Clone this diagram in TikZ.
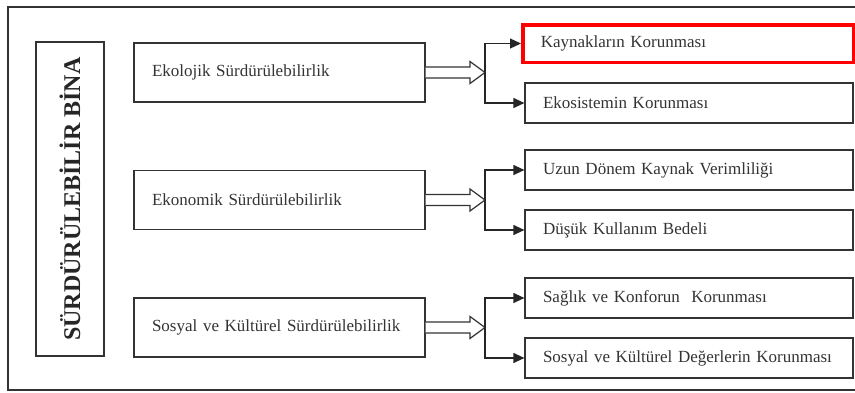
\documentclass[tikz,border=0pt]{standalone}
\usepackage{fontspec}
\setmainfont{Liberation Serif}
\usetikzlibrary{calc,positioning,arrows.meta}

\tikzset{
  box/.style={draw=black!80, line width=1.2pt, text=black!80, align=left, inner xsep=18pt, inner ysep=0pt, font=\fontsize{17}{19}\selectfont},
  mainbox/.style={box, minimum height=59pt, text width=255pt},
  subbox/.style={box, minimum height=40pt, text width=292pt},
  branch/.style={draw=black!85, line width=1.2pt, -{Triangle[length=11pt,width=10pt]}},
  hollow/.style={draw=black!80, line width=1.2pt, fill=white, line join=miter},
}

\begin{document}
\begin{tikzpicture}[x=1pt, y=-1pt]
  \useasboundingbox (0,0) rectangle (855,392);
  \draw[line width=1.2pt, black!80] (855,7) -- (8,7) -- (8,390) -- (855,390);

  \node[draw=black!80, line width=1.2pt, rotate=90, minimum width=314pt, minimum height=68pt,
        font=\fontsize{24}{26}\selectfont\bfseries, text=black!85] (bina) at (70,199) {SÜRDÜRÜLEBİLİR BİNA};

  \node[mainbox] (eko) at (279.5,72.5) {Ekolojik Sürdürülebilirlik};
  \node[mainbox] (ekon) at (279.5,200) {Ekonomik Sürdürülebilirlik};
  \node[mainbox] (sos) at (279.5,327.5) {Sosyal ve Kültürel Sürdürülebilirlik};

  \node[subbox, draw=red, line width=3.5pt, minimum height=37.5pt, text width=294.5pt] (kay) at (688,43.5) {Kaynakların Korunması};
  \node[subbox] (ekos) at (689,103) {Ekosistemin Korunması};
  \node[subbox] (uzun) at (689,170) {Uzun Dönem Kaynak Verimliliği};
  \node[subbox] (dusuk) at (689,230) {Düşük Kullanım Bedeli};
  \node[subbox] (saglik) at (689,298) {Sağlık ve Konforun\ \ Korunması};
  \node[subbox] (deger) at (689,358) {Sosyal ve Kültürel Değerlerin Korunması};

  \coordinate (j1) at (485,72.5);
  \coordinate (j2) at (485,200);
  \coordinate (j3) at (485,327.5);

  \foreach \src/\j in {eko/j1, ekon/j2, sos/j3}
    \draw[hollow] ($(\src.east)+(0,-5.5)$) -- ($(\j)+(-15,-5.5)$) -- ($(\j)+(-15,-11)$) -- (\j)
      -- ($(\j)+(-15,11)$) -- ($(\j)+(-15,5.5)$) -- ($(\src.east)+(0,5.5)$);

  \draw[branch] (j1) |- (kay.west);
  \draw[branch] (j1) |- (ekos.west);
  \draw[branch] (j2) |- (uzun.west);
  \draw[branch] (j2) |- (dusuk.west);
  \draw[branch] (j3) |- (saglik.west);
  \draw[branch] (j3) |- (deger.west);
\end{tikzpicture}
\end{document}
